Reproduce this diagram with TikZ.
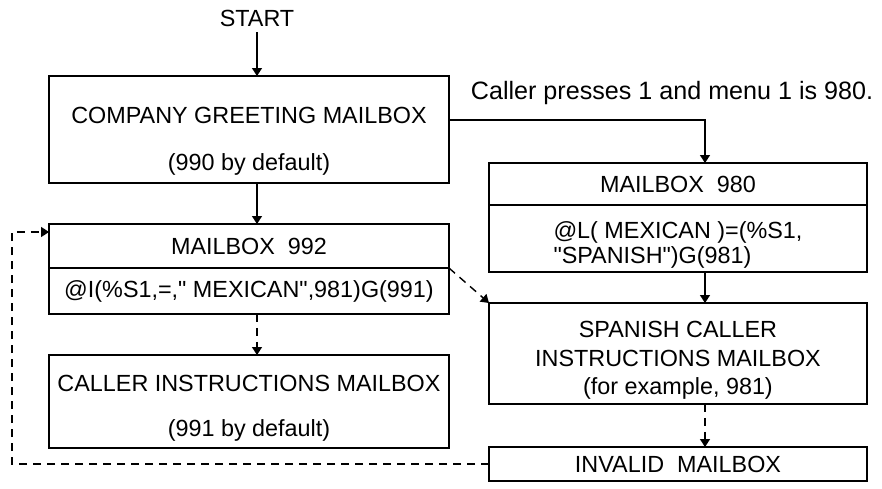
\documentclass[tikz,border=0pt]{standalone}
\usepackage{fontspec}
\setmainfont{Liberation Sans}
\usetikzlibrary{arrows.meta}

\newcommand{\qt}{\textquotedbl}

\begin{document}
\begin{tikzpicture}[x=0.02cm, y=-0.02cm, font=\fontsize{13.3}{16}\selectfont,
        box/.style={draw, line width=0.8pt, inner sep=0pt, outer sep=0pt, align=center},
        wide/.style={box, minimum width=8cm},
        narrow/.style={box, minimum width=7.56cm},
        flow/.style={-{Triangle[length=0.16cm,width=0.2cm]}, line width=0.8pt},
        jump/.style={flow, dash pattern=on 0.16cm off 0.12cm}]
        \useasboundingbox (0,0) rectangle (882,489);

        \node (start) at (257,18) {START};
        \node[wide, minimum height=2.14cm] (greet) at (249,129.5) {\rule{0pt}{23pt}COMPANY GREETING MAILBOX\\[11pt](990 by default)};
        \node[wide, minimum height=0.88cm] (title992) at (249,246) {MAILBOX\ \ 992};
        \node[wide, minimum height=0.92cm] (code992) at (249,291) {@I(\%S1,=,\qt\ MEXICAN\qt,981)G(991)};
        \node[wide, minimum height=1.86cm] (callerbox) at (249,401.5) {\rule{0pt}{17pt}CALLER INSTRUCTIONS MAILBOX\\[10pt](991 by default)};

        \node[font=\fontsize{14.3}{17}\selectfont] (presses) at (672,93) {Caller presses 1 and menu 1 is 980.};
        \node[narrow, minimum height=0.84cm] (title980) at (678,184) {MAILBOX\ \ 980};
        \node[narrow, minimum height=1.34cm, align=left] (code980) at (678,238.5) {\rule{0pt}{17pt}@L( MEXICAN )=(\%S1,\\[-2pt]\qt SPANISH\qt)G(981)};
        \node[narrow, minimum height=2.02cm] (spanish) at (678,353.5) {\rule{0pt}{17pt}SPANISH CALLER\\INSTRUCTIONS MAILBOX\\(for example, 981)};
        \node[narrow, minimum height=0.68cm] (invalid) at (678,464) {INVALID\ \ MAILBOX};

        \coordinate (turn) at (705,120);
        \coordinate (loop) at (12,232);

        \draw[flow] (start) -- (start |- greet.north);
        \draw[flow] (greet.south -| start) -- (title992.north -| start);
        \draw[jump] (code992.south -| start) -- (callerbox.north -| start);
        \draw[flow] (turn -| greet.east) -| (title980.north -| turn);
        \draw[flow] (code980.south -| turn) -- (spanish.north -| turn);
        \draw[jump] (spanish.south -| turn) -- (invalid.north -| turn);
        \draw[jump] (code992.north east) -- (spanish.north west);
        \draw[jump] (invalid.west) -| (loop) -- (loop -| title992.west);
    \end{tikzpicture}
\end{document}
